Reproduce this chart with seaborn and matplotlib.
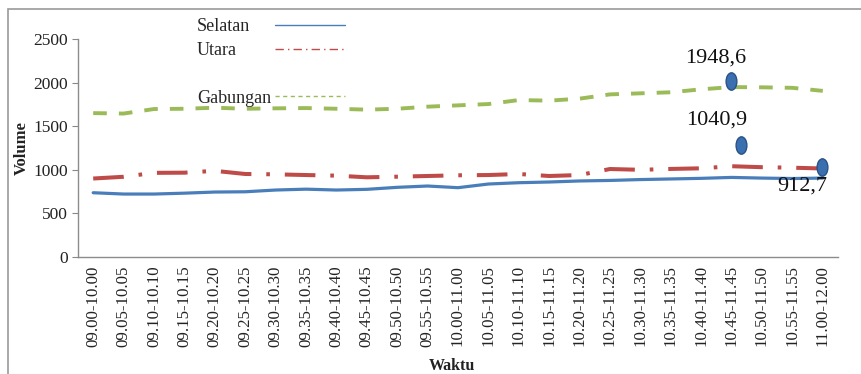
import numpy as np
import pandas as pd
import matplotlib
matplotlib.use("Agg")
import matplotlib.pyplot as plt
import seaborn as sns
from matplotlib.lines import Line2D
from matplotlib.patches import Rectangle
from matplotlib.markers import MarkerStyle
from matplotlib.path import Path
from matplotlib.transforms import Affine2D, ScaledTranslation

# ---------------- data ----------------
waktu = ["09.00-10.00", "09.05-10.05", "09.10-10.10", "09.15-10.15", "09.20-10.20",
         "09.25-10.25", "09.30-10.30", "09.35-10.35", "09.40-10.40", "09.45-10.45",
         "09.50-10.50", "09.55-10.55", "10.00-11.00", "10.05-11.05", "10.10-11.10",
         "10.15-11.15", "10.20-11.20", "10.25-11.25", "10.30-11.30", "10.35-11.35",
         "10.40-11.40", "10.45-11.45", "10.50-11.50", "10.55-11.55", "11.00-12.00"]
selatan = [737, 722, 722, 732, 745, 748, 768, 778, 768, 776,
           799, 814, 795, 837, 852, 860, 872, 878, 888, 895,
           902, 912.7, 905, 900, 905]
utara = [900, 920, 965, 967, 988, 952, 948, 940, 933, 914,
         921, 929, 937, 940, 952, 929, 940, 1009, 1000, 1010,
         1017, 1040.9, 1030, 1024, 1015]
gabungan = [1650, 1645, 1697, 1700, 1712, 1700, 1705, 1708, 1700, 1690,
            1700, 1724, 1739, 1754, 1800, 1793, 1816, 1865, 1877, 1889,
            1923, 1948.6, 1946, 1940, 1905]
yticks = [0, 500, 1000, 1500, 2000, 2500]
series_names = ["Selatan", "Utara", "Gabungan"]

df = pd.DataFrame({"Waktu": waktu, "Selatan": selatan, "Utara": utara, "Gabungan": gabungan})
df["pos"] = np.arange(len(df))

# ---------------- style ----------------
sns.set_theme(style="white")
plt.rcParams["font.family"] = ["Liberation Serif", "DejaVu Serif"]

C_SEL = "#4a7ebb"
C_UTA = "#be4b48"
C_GAB = "#9bbb59"

fig = plt.figure(figsize=(8.61, 3.74), dpi=100)
ax = fig.add_axes([78 / 861, 1 - 257 / 374, 760 / 861, 218 / 374])

sns.lineplot(data=df, x="pos", y="Selatan", ax=ax, color=C_SEL, linewidth=2.3, legend=False)
sns.lineplot(data=df, x="pos", y="Utara", ax=ax, color=C_UTA, linewidth=2.9, legend=False)
sns.lineplot(data=df, x="pos", y="Gabungan", ax=ax, color=C_GAB, linewidth=2.8, legend=False)
lines = ax.get_lines()
lines[1].set_dashes((7.6, 3.7, 0.9, 3.7))
lines[2].set_dashes((3.5, 3.1))

ax.set_xlim(-0.5, len(waktu) - 0.5)
ax.set_ylim(0, 2500)
ax.set_yticks(yticks)
ax.set_yticklabels([str(v) for v in yticks], fontsize=12.5, color="#222222")
ax.set_xticks(df["pos"])
ax.set_xticklabels(waktu, rotation=90, fontsize=12.2, color="#222222")
ax.tick_params(axis="y", length=4, width=0.8, color="#888888", pad=3, left=True)
ax.tick_params(axis="x", length=0, pad=6)

for s in ["top", "right"]:
    ax.spines[s].set_visible(False)
for s in ["left", "bottom"]:
    ax.spines[s].set_color("#8c8c8c")
    ax.spines[s].set_linewidth(1.0)

ax.set_xlabel("Waktu", fontsize=11.5, fontweight="bold", color="#222222")
ax.xaxis.set_label_coords((452 - 78) / 760, -0.463)
ax.set_ylabel("Volume", fontsize=12, fontweight="bold", color="#222222")
ax.yaxis.set_label_coords(-0.063, 0.5)

# ---------------- legend (labels left-aligned, samples to their right) ----------------
handles = [Line2D([], [], color=C_SEL, lw=1.0),
           Line2D([], [], color=C_UTA, lw=1.0, dashes=(6, 3, 1, 3)),
           Line2D([], [], color="none", lw=0),
           Line2D([], [], color=C_GAB, lw=1.0, dashes=(3, 2.5))]
labels = [series_names[0], series_names[1], " ", series_names[2]]
blank = [Line2D([], [], color="none", lw=0) for _ in labels]
leg_kw = dict(loc="upper left", bbox_transform=fig.transFigure, frameon=False,
              fontsize=13, labelspacing=0.38, borderpad=0, borderaxespad=0)
leg1 = fig.legend(blank, labels, bbox_to_anchor=(197 / 861, 1 - 18 / 374),
                  handlelength=0, handletextpad=0, **leg_kw)
leg2 = fig.legend(handles, [" "] * len(labels), bbox_to_anchor=(275 / 861, 1 - 18 / 374),
                  handlelength=3.9, handletextpad=0, **leg_kw)

# ---------------- markers + labels ----------------
ell = MarkerStyle(Path.unit_circle(), transform=Affine2D().scale(0.62, 1.0))

def mark(idx, series, mdx, mdy, tdx, tdy):
    val = series[idx]
    tr = ax.transData + ScaledTranslation(mdx / 72, mdy / 72, fig.dpi_scale_trans)
    ax.plot([idx], [val], transform=tr, marker=ell, markersize=12.5,
            markerfacecolor="#3a6fb0", markeredgecolor="#2a5286", markeredgewidth=1.0,
            linestyle="none", zorder=5, clip_on=False)
    ax.annotate(f"{max(series):.1f}".replace(".", ","), xy=(idx, val), xytext=(tdx, tdy),
                textcoords="offset points", ha="center", va="center", fontsize=16,
                color="#111111", zorder=6)

i_g = int(np.argmax(gabungan))
i_u = int(np.argmax(utara))
mark(i_g, gabungan, -0.7, 4.6, -11.5, 21)
mark(i_u, utara, 6.5, 15, -11, 33)
mark(len(selatan) - 1, selatan, -0.7, 8.2, -15, -6)

# figure border (cropped at right and bottom)
fig.patches.append(Rectangle((8 / 861, -0.2), 1.2, 1.2 - 9 / 374,
                             transform=fig.transFigure, fill=False,
                             edgecolor="#9a9a9a", linewidth=1.2))

fig.savefig("out.png", dpi=100, facecolor="white")
